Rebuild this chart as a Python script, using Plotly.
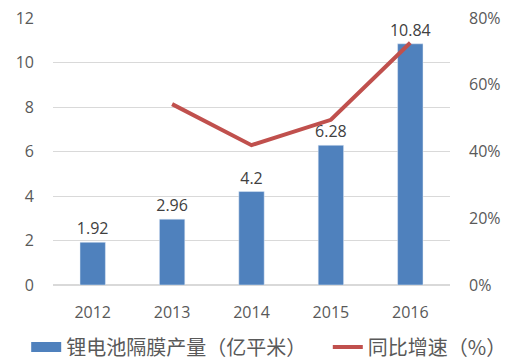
import plotly.graph_objects as go

years = ["2012", "2013", "2014", "2015", "2016"]
output = [1.92, 2.96, 4.2, 6.28, 10.84]
growth_years = ["2013", "2014", "2015", "2016"]
growth = [54.2, 41.9, 49.5, 72.6]
left_ticks = [0, 2, 4, 6, 8, 10, 12]
right_ticks = [0, 20, 40, 60, 80]
right_labels = ["0%", "20%", "40%", "60%", "80%"]

font_fam = "Open Sans, Noto Sans CJK SC, sans-serif"
bar_color = "#4f81bd"
line_color = "#c0504d"
legend_font = dict(size=20, color="#595959", family="Noto Sans CJK SC")

fig = go.Figure()
fig.add_trace(go.Bar(
    x=years, y=output, name="锂电池隔膜产量（亿平米）",
    marker=dict(color=bar_color), showlegend=False,
    text=[str(v) for v in output], textposition="outside",
    textfont=dict(size=16, color="#404040", family=font_fam),
    cliponaxis=False, constraintext="none",
))
# legend entry for bars drawn as a wide band like the reference
fig.add_trace(go.Scatter(
    x=[None], y=[None], name="锂电池隔膜产量（亿平米）", mode="lines",
    line=dict(color=bar_color, width=11), showlegend=True, legend="legend",
))
fig.add_trace(go.Scatter(
    x=growth_years, y=growth, name="同比增速（%）", yaxis="y2",
    mode="lines", line=dict(color=line_color, width=4), legend="legend2",
))

# the page body adds an 8px offset, so the figure is sized to fit the window
fig.update_layout(
    width=520, height=354,
    margin=dict(l=45, r=78, t=10, b=77, autoexpand=False),
    paper_bgcolor="white", plot_bgcolor="white",
    font=dict(family=font_fam, size=16, color="#595959"),
    bargap=0.68,
    showlegend=True,
    legend=dict(orientation="h", xref="container", x=0.035, xanchor="left",
                y=-0.232, yanchor="middle", font=legend_font,
                itemwidth=30, bgcolor="rgba(0,0,0,0)"),
    legend2=dict(orientation="h", xref="container", x=0.615, xanchor="left",
                 y=-0.232, yanchor="middle", font=legend_font,
                 itemwidth=30, bgcolor="rgba(0,0,0,0)"),
    xaxis=dict(type="category", showgrid=False, showline=False, ticks="",
               automargin=False, ticklabelstandoff=16, ticklabeloverflow="allow",
               tickfont=dict(size=16, color="#595959")),
    yaxis=dict(range=[0, 12], tickvals=left_ticks, showgrid=True, gridcolor="#d9d9d9",
               gridwidth=1, zeroline=True, zerolinecolor="#d9d9d9", showline=False,
               automargin=False, ticks="", ticklabelstandoff=18, ticklabeloverflow="allow",
               tickfont=dict(size=16, color="#595959")),
    yaxis2=dict(range=[0, 80], tickvals=right_ticks, ticktext=right_labels, overlaying="y",
                side="right", showgrid=False, zeroline=False, showline=False,
                automargin=False, ticks="", ticklabelstandoff=18, ticklabeloverflow="allow",
                tickfont=dict(size=16, color="#595959")),
)

fig.write_html("out.html")
